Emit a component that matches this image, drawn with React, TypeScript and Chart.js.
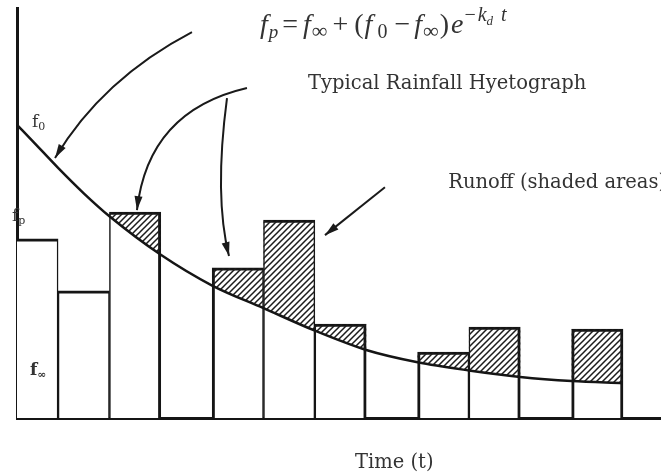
import React, { useEffect, useRef } from 'react';
import { Chart, registerables } from 'chart.js';

Chart.register(...registerables);

// ---- data ----
// start of each rainfall interval (time units)
const slotStarts = [0, 1, 2, 3, 4, 5, 6, 7, 8, 9, 10, 11];
// rainfall intensity per interval (null = no bar)
const rainfall: (number | null)[] = [43.7, 31.0, 50.2, null, 36.6, 48.3, 22.9, null, 16.1, 22.2, null, 21.7];
// infiltration capacity curve fp(t)
const curveTimes = [0.2, 0.5, 1, 1.5, 2, 3, 4, 5, 6, 7, 8, 9, 10, 11, 12];
const curveValues = [71.5, 67.6, 61.0, 54.8, 49.2, 39.8, 32.3, 26.8, 21.3, 16.6, 13.6, 11.6, 10.0, 9.0, 8.5];

const X_MIN = 0.2;
const X_MAX = 12.74;
const Y_MAX = 100;

// annotations (data units)
const arrows = [
  { from: [3.607, 94.1], ctrl: [1.865, 82.7], to: [0.94, 63.4] },
  { from: [4.678, 80.5], ctrl: [2.751, 74.9], to: [2.536, 50.7] },
  { from: [4.289, 78.0], ctrl: [4.036, 54.1], to: [4.328, 39.5] },
  { from: [7.365, 56.3], ctrl: null, to: [6.197, 44.6] },
];
const texts = [
  { x: 5.866, y: 80.2, text: 'Typical Rainfall Hyetograph' },
  { x: 8.598, y: 56.1, text: 'Runoff (shaded areas)' },
  { x: 6.781, y: -12.2, text: 'Time (t)' },
];
const fLabels = [
  { x: 0.492, y: 71.0, sub: '0', bold: false },
  { x: 0.103, y: 48.0, sub: 'p', bold: false },
  { x: 0.453, y: 10.5, sub: '\u221e', bold: true },
];
const equationAnchor = { x: 4.931, y: 93.9 };

type Piece = { t: string; it?: boolean; size: number; dy?: number; pre?: number; post?: number };
const equation: Piece[] = [
  { t: 'f', it: true, size: 28, post: 1 },
  { t: 'p', it: true, size: 19, dy: 5 },
  { t: '=', size: 28, pre: 4, post: 5 },
  { t: 'f', it: true, size: 28, post: 1 },
  { t: '\u221e', size: 22, dy: 5 },
  { t: '+', size: 28, pre: 5, post: 6 },
  { t: '(', size: 28, post: 1 },
  { t: 'f', it: true, size: 28, post: 5 },
  { t: '0', size: 20, dy: 5, post: 3 },
  { t: '\u2212', size: 28, pre: 4, post: 4 },
  { t: 'f', it: true, size: 28, post: 1 },
  { t: '\u221e', size: 22, dy: 5 },
  { t: ')', size: 28, pre: 1, post: 2 },
  { t: 'e', it: true, size: 28, post: 1 },
  { t: '\u2212', size: 20, dy: -12, post: 2 },
  { t: 'k', it: true, size: 20, dy: -12 },
  { t: 'd', it: true, size: 13, dy: -8, post: 8 },
  { t: 't', it: true, size: 20, dy: -12 },
];

const SERIF = '"DejaVu Serif", serif';
const MATH = '"Liberation Serif", serif';

function makeHatch(): CanvasPattern | string {
  const s = 6;
  const c = document.createElement('canvas');
  c.width = s;
  c.height = s;
  const g = c.getContext('2d');
  if (!g) return '#888';
  g.strokeStyle = '#1c1c1c';
  g.lineWidth = 1.5;
  g.beginPath();
  g.moveTo(-1, s + 1);
  g.lineTo(s + 1, -1);
  g.moveTo(-1, 1);
  g.lineTo(1, -1);
  g.moveTo(s - 1, s + 1);
  g.lineTo(s + 1, s - 1);
  g.stroke();
  return g.createPattern(c, 'repeat') || '#888';
}

const annotationPlugin = {
  id: 'annotations',
  afterDraw(chart: any) {
    const ctx: CanvasRenderingContext2D = chart.ctx;
    const xs = chart.scales.x;
    const ys = chart.scales.y;
    const px = (v: number) => xs.getPixelForValue(v);
    const py = (v: number) => ys.getPixelForValue(v);
    ctx.save();
    // arrows
    ctx.strokeStyle = '#1a1a1a';
    ctx.fillStyle = '#1a1a1a';
    ctx.lineWidth = 2;
    for (const a of arrows) {
      const x0 = px(a.from[0]), y0 = py(a.from[1]);
      const x2 = px(a.to[0]), y2 = py(a.to[1]);
      let dx: number, dy: number;
      ctx.beginPath();
      ctx.moveTo(x0, y0);
      if (a.ctrl) {
        const cx = px(a.ctrl[0]), cy = py(a.ctrl[1]);
        ctx.quadraticCurveTo(cx, cy, x2, y2);
        dx = x2 - cx; dy = y2 - cy;
      } else {
        ctx.lineTo(x2, y2);
        dx = x2 - x0; dy = y2 - y0;
      }
      ctx.stroke();
      const len = Math.hypot(dx, dy) || 1;
      const ux = dx / len, uy = dy / len;
      const L = 14, W = 4;
      ctx.beginPath();
      ctx.moveTo(x2, y2);
      ctx.lineTo(x2 - ux * L - uy * W, y2 - uy * L + ux * W);
      ctx.lineTo(x2 - ux * L + uy * W, y2 - uy * L - ux * W);
      ctx.closePath();
      ctx.fill();
    }
    // texts
    ctx.fillStyle = '#333';
    ctx.textBaseline = 'alphabetic';
    ctx.textAlign = 'left';
    ctx.font = `19.5px ${SERIF}`;
    for (const t of texts) ctx.fillText(t.text, px(t.x), py(t.y));
    // f labels
    for (const f of fLabels) {
      const x = px(f.x), y = py(f.y);
      ctx.font = `${f.bold ? 'bold ' : ''}17px ${SERIF}`;
      ctx.fillText('f', x, y);
      const w = ctx.measureText('f').width;
      ctx.font = `${f.bold ? 'bold ' : ''}11px ${SERIF}`;
      ctx.fillText(f.sub, x + w, y + 3);
    }
    // equation
    let ex = px(equationAnchor.x);
    const ey = py(equationAnchor.y);
    for (const p of equation) {
      ex += p.pre || 0;
      ctx.font = `${p.it ? 'italic ' : ''}${p.size}px ${MATH}`;
      ctx.fillText(p.t, ex, ey + (p.dy || 0));
      ex += ctx.measureText(p.t).width + (p.post || 0);
    }
    ctx.restore();
  },
};

export default function App() {
  const ref = useRef<HTMLCanvasElement | null>(null);
  useEffect(() => {
    if (!ref.current) return;
    const hatch = makeHatch();
    const barData = slotStarts.map((s, i) => ({ x: s + 0.5, y: rainfall[i] }));
    const stepData = slotStarts.map((s, i) => ({ x: s, y: rainfall[i] ?? 0 }));
    stepData.push({ x: slotStarts[slotStarts.length - 1] + 1, y: rainfall[rainfall.length - 1] ?? 0 });
    const curveData = curveTimes.map((t, i) => ({ x: t, y: curveValues[i] }));

    const chart = new Chart(ref.current, {
      type: 'bar',
      data: {
        datasets: [
          {
            type: 'bar',
            data: barData as any,
            backgroundColor: '#ffffff',
            borderColor: '#151515',
            borderWidth: ((c: any) => {
              const i = c.dataIndex;
              const l = i > 0 && rainfall[i - 1] != null;
              const r = i < rainfall.length - 1 && rainfall[i + 1] != null;
              return { top: 3, left: l ? 1.5 : 3, right: r ? 1.5 : 3, bottom: 0 };
            }) as any,
            borderSkipped: 'start',
            barPercentage: 1,
            categoryPercentage: 1,
            order: 3,
          } as any,
          {
            type: 'line',
            data: stepData as any,
            stepped: true,
            borderColor: 'rgba(0,0,0,0)',
            borderWidth: 0,
            pointRadius: 0,
            fill: { target: 2, above: hatch, below: 'rgba(0,0,0,0)' },
            order: 2,
          } as any,
          {
            type: 'line',
            data: curveData as any,
            borderColor: '#151515',
            borderWidth: 2.5,
            pointRadius: 0,
            cubicInterpolationMode: 'monotone',
            fill: false,
            order: 1,
          } as any,
        ],
      },
      options: {
        responsive: false,
        animation: false,
        events: [],
        layout: { padding: { left: 17, top: 8, right: 0, bottom: 57 } },
        plugins: { legend: { display: false }, tooltip: { enabled: false } },
        scales: {
          x: {
            type: 'linear',
            min: X_MIN,
            max: X_MAX,
            offset: false,
            z: 1,
            ticks: { display: false, stepSize: 1 },
            afterBuildTicks: (axis: any) => {
              axis.ticks = axis.ticks.filter((t: any) => Number.isInteger(t.value));
            },
            grid: { display: false, drawTicks: false },
            border: { display: true, color: '#151515', width: 3 },
          },
          y: {
            type: 'linear',
            min: 0,
            max: Y_MAX,
            z: 1,
            ticks: { display: false },
            grid: { display: false, drawTicks: false },
            border: { display: true, color: '#151515', width: 3 },
          },
        },
      } as any,
      plugins: [annotationPlugin],
    });
    return () => chart.destroy();
  }, []);
  return (
    <div style={{ position: 'fixed', left: 0, top: 0, width: 661, height: 475, background: '#fff' }}>
      <canvas ref={ref} width={661} height={475} style={{ display: 'block' }} />
    </div>
  );
}
